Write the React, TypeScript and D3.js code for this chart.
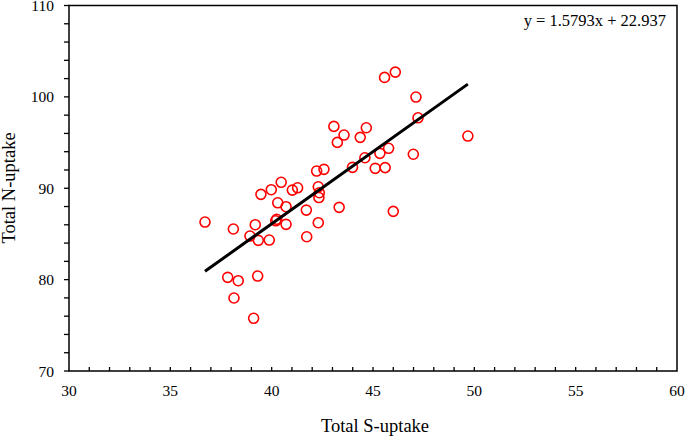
import React, { useEffect, useRef } from "react";
import * as d3 from "d3";

// S-uptake (x) vs N-uptake (y)
const sUptake = [
  36.71, 38.11, 37.83, 38.35, 38.14, 39.31, 39.11, 38.93, 39.19, 39.34, 39.88, 39.47,
  39.98, 40.47, 40.3, 40.71, 40.2, 40.25, 40.71, 41.02, 41.28, 41.71, 41.73, 42.3,
  42.3, 42.35, 42.33, 42.22, 42.58, 43.07, 43.57, 43.24, 44.67, 44.37, 44.6, 45.34,
  45.77, 45.11, 45.6, 43.99, 46.99, 46.0, 43.33, 45.57, 46.1, 47.12, 47.22, 49.68,
];
const nUptake = [
  86.3, 85.54, 80.25, 79.88, 77.99, 80.39, 75.77, 84.77, 86.01, 84.3, 84.33, 89.33,
  89.84, 90.65, 88.41, 87.98, 86.44, 86.6, 86.05, 89.8, 90.05, 87.61, 84.69, 86.23,
  90.16, 89.51, 88.98, 91.88, 92.07, 96.77, 95.82, 95.02, 96.62, 95.57, 93.34, 93.82,
  94.37, 92.18, 92.26, 92.29, 93.72, 87.47, 87.91, 102.13, 102.71, 99.98, 97.71, 95.71,
];
const xTicks = [30, 35, 40, 45, 50, 55, 60];
const yTicks = [70, 80, 90, 100, 110];
const slope = 1.5793;
const intercept = 22.937;

const width = 685;
const height = 437;
const margin = { top: 5.5, right: 8, bottom: 66, left: 69 };

export default function App() {
  const ref = useRef<SVGSVGElement>(null);

  useEffect(() => {
    const svg = d3.select(ref.current);
    svg.selectAll("*").remove();

    const x = d3.scaleLinear().domain([30, 60]).range([margin.left, width - margin.right]);
    const y = d3.scaleLinear().domain([70, 110]).range([height - margin.bottom, margin.top]);
    const font = "Liberation Serif";

    const x0 = x(30), x1 = x(60), y0 = y(70), y1 = y(110);

    // frame
    svg
      .append("rect")
      .attr("x", x0)
      .attr("y", y1)
      .attr("width", x1 - x0)
      .attr("height", y0 - y1)
      .attr("fill", "none")
      .attr("stroke", "black")
      .attr("stroke-width", 1.5);

    // x minor ticks, pointing up into the plot
    svg
      .append("g")
      .selectAll("line")
      .data(d3.range(31, 60))
      .enter()
      .append("line")
      .attr("x1", (d) => x(d))
      .attr("x2", (d) => x(d))
      .attr("y1", y0)
      .attr("y2", y0 - 4)
      .attr("stroke", "black")
      .attr("stroke-width", 1.3);

    // y ticks every 2, pointing out
    svg
      .append("g")
      .selectAll("line")
      .data(d3.range(70, 111, 2))
      .enter()
      .append("line")
      .attr("x1", x0 - 5)
      .attr("x2", x0)
      .attr("y1", (d) => y(d))
      .attr("y2", (d) => y(d))
      .attr("stroke", "black")
      .attr("stroke-width", 1.3);

    svg
      .append("g")
      .selectAll("text")
      .data(xTicks)
      .enter()
      .append("text")
      .attr("x", (d) => x(d))
      .attr("y", 396)
      .attr("text-anchor", "middle")
      .style("font-family", font)
      .style("font-size", "15.5px")
      .text((d) => d);

    svg
      .append("g")
      .selectAll("text")
      .data(yTicks)
      .enter()
      .append("text")
      .attr("x", 54)
      .attr("y", (d) => y(d) + 5.5)
      .attr("text-anchor", "end")
      .style("font-family", font)
      .style("font-size", "15.5px")
      .text((d) => d);

    svg
      .append("text")
      .attr("x", 375)
      .attr("y", 432)
      .attr("text-anchor", "middle")
      .style("font-family", font)
      .style("font-size", "18.5px")
      .text("Total S-uptake");

    svg
      .append("text")
      .attr("transform", `translate(15,${188}) rotate(-90)`)
      .attr("text-anchor", "middle")
      .style("font-family", font)
      .style("font-size", "18.5px")
      .text("Total N-uptake");

    // points
    svg
      .append("g")
      .selectAll("circle")
      .data(sUptake.map((s, i) => [s, nUptake[i]]))
      .enter()
      .append("circle")
      .attr("cx", (d) => x(d[0]))
      .attr("cy", (d) => y(d[1]))
      .attr("r", 5)
      .attr("fill", "none")
      .attr("stroke", "#ff0000")
      .attr("stroke-width", 1.6);

    // trend line
    const [minX, maxX] = d3.extent(sUptake) as [number, number];
    const line = d3
      .line<number>()
      .x((d) => x(d))
      .y((d) => y(slope * d + intercept));
    svg
      .append("path")
      .attr("d", line([minX, maxX]))
      .attr("fill", "none")
      .attr("stroke", "black")
      .attr("stroke-width", 3);

    svg
      .append("text")
      .attr("x", 666)
      .attr("y", 26)
      .attr("text-anchor", "end")
      .style("font-family", font)
      .style("font-size", "16.5px")
      .text(`y = ${slope}x + ${intercept}`);
  }, []);

  return (
    <svg
      ref={ref}
      width={width}
      height={height}
      style={{ position: "absolute", left: 0, top: 0, background: "white" }}
    />
  );
}
